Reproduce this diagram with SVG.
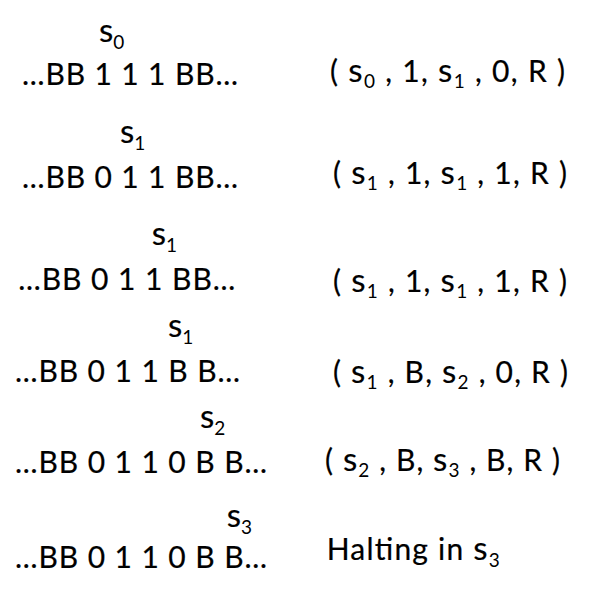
<svg xmlns="http://www.w3.org/2000/svg" width="596" height="604" viewBox="0 0 596 604">
<style>
.t{font-family:Lato,"Open Sans","Liberation Sans",sans-serif;fill:#000;stroke:#000;stroke-width:0.2px}
.main{font-size:30px}
.st{font-size:33px}
.sub{font-size:19px;stroke:none}
</style>
<rect width="596" height="604" fill="#fff"/>
<g id="row1">
<text class="t st" x="99" y="41.7">s<tspan class="sub" dy="7">0</tspan></text>
<text class="t main" x="22" y="85" textLength="216" lengthAdjust="spacing">…BB 1 1 1 BB…</text>
<text class="t main" x="330" y="82" textLength="235" lengthAdjust="spacing">( <tspan class="st">s</tspan><tspan class="sub" dy="6">0</tspan><tspan dy="-6"> , 1, </tspan><tspan class="st">s</tspan><tspan class="sub" dy="6">1</tspan><tspan dy="-6"> , 0, R )</tspan></text>
</g>
<g id="row2">
<text class="t st" x="120" y="143.3">s<tspan class="sub" dy="7">1</tspan></text>
<text class="t main" x="22" y="188.3" textLength="216" lengthAdjust="spacing">…BB 0 1 1 BB…</text>
<text class="t main" x="333" y="183.5" textLength="234" lengthAdjust="spacing">( <tspan class="st">s</tspan><tspan class="sub" dy="6">1</tspan><tspan dy="-6"> , 1, </tspan><tspan class="st">s</tspan><tspan class="sub" dy="6">1</tspan><tspan dy="-6"> , 1, R )</tspan></text>
</g>
<g id="row3">
<text class="t st" x="151.7" y="245">s<tspan class="sub" dy="7">1</tspan></text>
<text class="t main" x="18.3" y="290" textLength="217" lengthAdjust="spacing">…BB 0 1 1 BB…</text>
<text class="t main" x="333" y="291.5" textLength="234" lengthAdjust="spacing">( <tspan class="st">s</tspan><tspan class="sub" dy="6">1</tspan><tspan dy="-6"> , 1, </tspan><tspan class="st">s</tspan><tspan class="sub" dy="6">1</tspan><tspan dy="-6"> , 1, R )</tspan></text>
</g>
<g id="row4">
<text class="t st" x="168" y="336.7">s<tspan class="sub" dy="7">1</tspan></text>
<text class="t main" x="15" y="381.7" textLength="225" lengthAdjust="spacing">…BB 0 1 1 B B…</text>
<text class="t main" x="333" y="383" textLength="235" lengthAdjust="spacing">( <tspan class="st">s</tspan><tspan class="sub" dy="6">1</tspan><tspan dy="-6"> , B, </tspan><tspan class="st">s</tspan><tspan class="sub" dy="6">2</tspan><tspan dy="-6"> , 0, R )</tspan></text>
</g>
<g id="row5">
<text class="t st" x="200" y="428">s<tspan class="sub" dy="7">2</tspan></text>
<text class="t main" x="15" y="473.3" textLength="252" lengthAdjust="spacing">…BB 0 1 1 0 B B…</text>
<text class="t main" x="325" y="470.5" textLength="235" lengthAdjust="spacing">( <tspan class="st">s</tspan><tspan class="sub" dy="6">2</tspan><tspan dy="-6"> , B, </tspan><tspan class="st">s</tspan><tspan class="sub" dy="6">3</tspan><tspan dy="-6"> , B, R )</tspan></text>
</g>
<g id="row6">
<text class="t st" x="226.7" y="526.7">s<tspan class="sub" dy="7">3</tspan></text>
<text class="t main" x="15" y="568.3" textLength="252" lengthAdjust="spacing">…BB 0 1 1 0 B B…</text>
<text class="t main" x="326.7" y="560" textLength="173" lengthAdjust="spacing">Halting in <tspan class="st">s</tspan><tspan class="sub" dy="7">3</tspan></text>
</g>
</svg>
